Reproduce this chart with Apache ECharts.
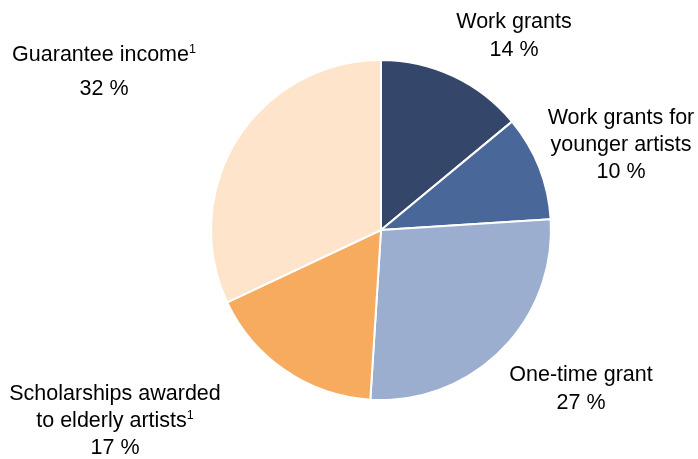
<!DOCTYPE html>
<html>
<head>
<meta charset="utf-8">
<script src="https://cdn.jsdelivr.net/npm/echarts@6/dist/echarts.min.js"></script>
<style>
  html, body { margin: 0; padding: 0; background: #fff; }
  #chart { width: 698px; height: 459px; }
</style>
</head>
<body>
<div id="chart"></div>
<script>
// Grant categories, clockwise from twelve o'clock
const categories = [
  'Work grants',
  'Work grants for\nyounger artists',
  'One-time grant',
  'Scholarships awarded\nto elderly artists',
  'Guarantee income'
];
// Share of total, per cent
const shares = [14, 10, 27, 17, 32];
// Footnote marker shown after the category name
const footnotes = ['', '', '', '1', '1'];

const colors = ['#34476A', '#4A6799', '#9BAED0', '#F6AB5E', '#FDE4CB'];

// Where each label block sits (centre of the block)
const labelSpots = [
  { x: 514, y: 36, lh: 28 },
  { x: 621, y: 145, lh: 27 },
  { x: 581, y: 389, lh: 28 },
  { x: 115, y: 421, lh: 27 },
  { x: 104, y: 72, lh: 34 }
];

const chart = echarts.init(document.getElementById('chart'), null, { renderer: 'canvas' });

const data = categories.map((name, i) => ({
  name: name,
  value: shares[i],
  itemStyle: { color: colors[i] },
  label: {
    rich: {
      t: { fontSize: 21.5, color: '#000', fontFamily: 'Liberation Sans, Arial, sans-serif', lineHeight: labelSpots[i].lh },
      s: { fontSize: 12.5, color: '#000', fontFamily: 'Liberation Sans, Arial, sans-serif', lineHeight: labelSpots[i].lh, padding: [0, 0, 10, 0] }
    }
  }
}));

chart.setOption({
  animation: false,
  backgroundColor: '#fff',
  series: [{
    type: 'pie',
    center: [381, 230],
    radius: 170,
    startAngle: 90,
    clockwise: true,
    data: data,
    itemStyle: { borderColor: '#fff', borderWidth: 2 },
    emphasis: { disabled: true },
    labelLine: { show: false },
    label: {
      show: true,
      position: 'outside',
      align: 'center',
      overflow: 'none',
      edgeDistance: 0,
      formatter: function (p) {
        const i = p.dataIndex;
        const sup = footnotes[i] ? '{s|' + footnotes[i] + '}' : '';
        return '{t|' + p.name + '}' + sup + '\n{t|' + p.value + ' %}';
      }
    },
    labelLayout: function (params) {
      const spot = labelSpots[params.dataIndex];
      return { x: spot.x, y: spot.y, align: 'center', verticalAlign: 'middle', hideOverlap: false };
    }
  }]
});
</script>
</body>
</html>
